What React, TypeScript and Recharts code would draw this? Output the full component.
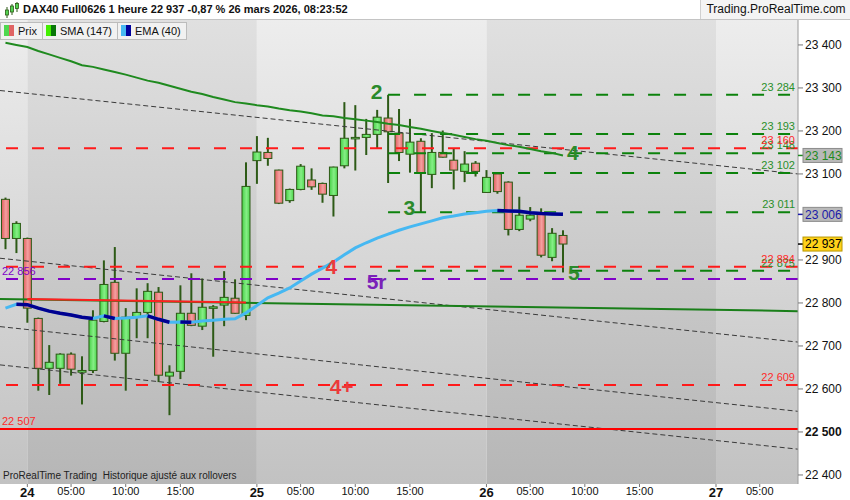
import React from "react";
import {
  ComposedChart,
  Bar,
  Line,
  XAxis,
  YAxis,
  ReferenceLine,
  ReferenceArea,
  ReferenceDot,
} from "recharts";

// hourly candles, DAX40 Full0626 (index 0 = 23rd 20:00, index 2 = 24th 01:00)
const opens = [
  23041, 22950, 22950, 22764, 22648, 22648, 22681, 22639, 22643, 22757, 22848, 22683, 22767,
  22778, 22825, 22630, 22641, 22776, 22746, 22788, 22795, 22811, 22771, 23131, 23150, 23109,
  23038, 23064, 23086, 23078, 23050, 23119, 23183, 23185, 23192, 23230, 23195, 23146, 23176,
  23099, 23150, 23132, 23106, 23125, 23057, 23100, 23081, 22971, 22995, 23009, 22906, 22957,
];
const highs = [
  23045, 22990, 22952, 22766, 22702, 22683, 22685, 22676, 22783, 22899, 22930, 22788, 22834,
  22846, 22837, 22655, 22841, 22869, 22857, 22795, 22874, 22855, 23127, 23188, 23184, 23110,
  23066, 23123, 23113, 23080, 23117, 23267, 23260, 23228, 23249, 23284, 23251, 23228, 23183,
  23195, 23201, 23160, 23153, 23130, 23109, 23101, 23083, 23047, 23023, 23020, 22974, 22969,
];
const lows = [
  22925, 22916, 22754, 22596, 22586, 22612, 22631, 22564, 22637, 22755, 22666, 22596, 22718,
  22718, 22616, 22539, 22623, 22746, 22737, 22675, 22746, 22775, 22760, 23077, 23119, 23030,
  23033, 23062, 23063, 23033, 23001, 23113, 23108, 23144, 23160, 23079, 23130, 23103, 23011,
  23067, 23138, 23064, 23081, 23094, 23056, 23054, 22957, 22967, 22990, 22906, 22897, 22871,
];
const closes = [
  22950, 22985, 22788, 22648, 22662, 22681, 22646, 22643, 22760, 22843, 22683, 22767, 22778,
  22827, 22632, 22639, 22776, 22748, 22790, 22791, 22813, 22776, 23071, 23151, 23136, 23032,
  23064, 23118, 23070, 23053, 23116, 23183, 23185, 23192, 23232, 23198, 23150, 23174, 23102,
  23150, 23139, 23109, 23123, 23106, 23092, 23059, 22971, 23004, 23004, 22911, 22962, 22937,
];
const sma147 = [
  23405, 23400, 23395, 23386, 23378, 23370, 23362, 23353, 23349, 23343, 23337, 23331, 23324,
  23317, 23312, 23305, 23298, 23291, 23286, 23279, 23273, 23267, 23264, 23260, 23257, 23252,
  23248, 23245, 23241, 23236, 23234, 23230, 23227, 23224, 23221, 23217, 23214, 23209, 23205,
  23200, 23195, 23191, 23186, 23181, 23177, 23172, 23167, 23163, 23158, 23153, 23149, 23143,
];
const ema40 = [
  22788, 22797, 22796, 22788, 22781, 22776, 22772, 22767, 22764, 22770, 22764, 22765, 22767,
  22770, 22762, 22755, 22756, 22755, 22758, 22760, 22762, 22763, 22777, 22794, 22812, 22823,
  22835, 22851, 22867, 22881, 22895, 22912, 22928, 22940, 22951, 22960, 22969, 22977, 22984,
  22991, 22998, 23002, 23007, 23010, 23013, 23015, 23014, 23013, 23010, 23008, 23007, 23006,
];

const xTicks = [2, 6, 11, 16, 23, 27, 32, 37, 44, 48, 53, 58, 65, 69];
const xTickLabels = ["24", "05:00", "10:00", "15:00", "25", "05:00", "10:00", "15:00", "26", "05:00", "10:00", "15:00", "27", "05:00"];
// 23 000 sits under the EMA badge in the reference
const yTicks = [22400, 22500, 22600, 22700, 22800, 22900, 23100, 23200, 23300, 23400];
const dayEdges = [-0.5, 2, 23, 44, 65, 72.5];

// auto levels
const greenLevelStart = 35;
const greenLevels = [23284, 23193, 23148, 23102, 23011, 22875];
const redLevels = [23160, 22884, 22609];
const purpleLevels = [22856];
const supportLevel = 22507;

// channel lines (price at left edge, price at right edge)
const channelStart = [23294, 22904, 22745, 22656];
const channelEnd = [23100, 22709, 22548, 22460];
const greenTrend = [22809, 22781];
const redTrend = [22809, 22801];
const redTrendRange = [2, 22];

// wave labels: text, index, price
const waveText = ["2", "3", "4", "5", "4", "5r", "4+"];
const waveX = [33.95, 36.95, 51.9, 52.0, 29.8, 33.95, 30.75];
const waveY = [23291, 23021, 23151, 22872, 22884, 22851, 22607];
const waveKind = ["g", "g", "g", "g", "r", "p", "r"];

const lastEma = ema40[ema40.length - 1];
const lastSma = sma147[sma147.length - 1];
const lastClose = closes[closes.length - 1];

const candles = opens.map((o, i) => ({
  i,
  o,
  h: highs[i],
  l: lows[i],
  c: closes[i],
  sma: sma147[i],
  ema: ema40[i],
}));

// falling stretches of the EMA are drawn dark blue
const emaFalling: { i: number; v: number }[][] = [];
let run: { i: number; v: number }[] | null = null;
for (let i = 1; i < ema40.length; i++) {
  if (ema40[i] < ema40[i - 1]) {
    if (!run) {
      run = [{ i: i - 1, v: ema40[i - 1] }];
      emaFalling.push(run);
    }
    run.push({ i, v: ema40[i] });
  } else run = null;
}

const FONT = "'Liberation Sans', Arial, sans-serif";
const WICK = "#2d5a16";
const GREEN = "#1f8a1f";
const RED = "#ff1a1a";
const PURPLE = "#8000c8";
const fmt = (v: number) => String(v).replace(/\B(?=(\d{3})+(?!\d))/g, " ");

const Candle = (props: any) => {
  const { x, y, width, height } = props;
  const d = props.payload ?? props;
  if (d == null || d.o == null) return null;
  const top = Math.min(y, y + height);
  const span = Math.abs(height);
  const k = d.h > d.l ? span / (d.h - d.l) : 0;
  const yO = top + (d.h - d.o) * k;
  const yC = top + (d.h - d.c) * k;
  const up = d.c >= d.o;
  const bTop = Math.min(yO, yC);
  const bH = Math.max(Math.abs(yO - yC), 1.5);
  const mid = x + width / 2;
  return (
    <g>
      <line x1={mid} x2={mid} y1={top} y2={top + span} stroke={WICK} strokeWidth={2} />
      <rect
        x={x + 0.5}
        y={bTop}
        width={width - 1}
        height={bH}
        fill={up ? "url(#candleUp)" : "url(#candleDown)"}
        stroke={WICK}
        strokeWidth={1}
      />
    </g>
  );
};

const XTick = ({ x, y, payload }: any) => {
  const label = xTickLabels[xTicks.indexOf(payload.value)] ?? "";
  const day = label.length <= 2;
  return (
    <text
      x={x}
      y={y}
      dy={day ? "0.8em" : "0.75em"}
      textAnchor="middle"
      fontFamily={FONT}
      fontSize={day ? 13 : 11}
      fontWeight={day ? "bold" : "normal"}
      fill="#111"
    >
      {label}
    </text>
  );
};

const YTick = ({ x, y, payload }: any) => (
  <text
    x={x}
    y={y}
    dy="0.35em"
    textAnchor="start"
    fontFamily={FONT}
    fontSize={12}
    fontWeight={payload.value === 22500 ? "bold" : "normal"}
    fill="#111"
  >
    {fmt(payload.value)}
  </text>
);

const levelText = (color: string, value: number, left: boolean) => (p: any) => (
  <text
    x={left ? p.cx + 2 : p.cx - 3}
    y={p.cy - 4}
    textAnchor={left ? "start" : "end"}
    fontFamily={FONT}
    fontSize={11}
    fill={color}
  >
    {fmt(value)}
  </text>
);

const badge = (value: number, bg: string, border: string, color: string, tick: string) => (p: any) => (
  <g>
    <line x1={p.cx} x2={p.cx + 5} y1={p.cy} y2={p.cy} stroke={tick} strokeWidth={1.5} />
    <rect x={p.cx + 5} y={p.cy - 7} width={39} height={14} fill={bg} stroke={border} />
    <text x={p.cx + 7} y={p.cy} dy="0.36em" fontFamily={FONT} fontSize={12} fill={color}>
      {fmt(value)}
    </text>
  </g>
);

const waveColor: Record<string, string> = { g: "#2b8a2b", r: "#ec3a3a", p: "#7a22b8" };

const Swatch = ({ a, b }: { a: string; b: string }) => (
  <span style={{ display: "inline-block", width: 10, height: 11, marginRight: 4, verticalAlign: "-1px" }}>
    <span style={{ display: "inline-block", width: 5, height: 11, background: a }} />
    <span style={{ display: "inline-block", width: 5, height: 11, background: b }} />
  </span>
);

const legendBox: React.CSSProperties = {
  display: "inline-block",
  height: 16,
  lineHeight: "16px",
  padding: "0 5px 0 3px",
  border: "1px solid #bcbcbc",
  background: "#f1f1f1",
  fontSize: 11,
  color: "#111",
  marginRight: -1,
};

export default function App() {
  return (
    <div style={{ position: "absolute", left: 0, top: 0, width: 850, height: 500, background: "#fff", fontFamily: FONT }}>
      <ComposedChart width={850} height={500} data={candles} margin={{ top: 20, right: 0, bottom: 0, left: 0 }}>
        <defs>
          <linearGradient id="bgLight" x1="0" y1="0" x2="0" y2="1">
            <stop offset="0%" stopColor="#ededed" />
            <stop offset="100%" stopColor="#c2c2c2" />
          </linearGradient>
          <linearGradient id="bgDark" x1="0" y1="0" x2="0" y2="1">
            <stop offset="0%" stopColor="#e0e0e0" />
            <stop offset="100%" stopColor="#b6b6b6" />
          </linearGradient>
          <linearGradient id="candleUp" x1="0" y1="0" x2="1" y2="0">
            <stop offset="0%" stopColor="#46d046" />
            <stop offset="55%" stopColor="#86ee86" />
            <stop offset="100%" stopColor="#4cd64c" />
          </linearGradient>
          <linearGradient id="candleDown" x1="0" y1="0" x2="1" y2="0">
            <stop offset="0%" stopColor="#e05c5c" />
            <stop offset="55%" stopColor="#f4a0a0" />
            <stop offset="100%" stopColor="#e26868" />
          </linearGradient>
        </defs>
        {dayEdges.slice(0, -1).map((x1, k) => (
          <ReferenceArea
            key={`band${k}`}
            x1={x1}
            x2={dayEdges[k + 1]}
            fill={k % 2 === 0 ? "url(#bgLight)" : "url(#bgDark)"}
            fillOpacity={1}
            stroke="none"
            zIndex={-200}
          />
        ))}
        <XAxis
          dataKey="i"
          type="number"
          domain={[-0.5, 72.5]}
          ticks={xTicks}
          interval={0}
          allowDataOverflow
          height={16}
          axisLine={false}
          tickSize={3}
          tickMargin={0}
          tickLine={{ stroke: "#777" }}
          tick={<XTick />}
        />
        <YAxis
          orientation="right"
          type="number"
          domain={[22379, 23458]}
          ticks={yTicks}
          interval={0}
          allowDataOverflow
          width={52}
          tickSize={5}
          tickMargin={2}
          axisLine={{ stroke: "#9a9a9a" }}
          tickLine={{ stroke: "#777" }}
          tick={<YTick />}
        />

        {channelStart.map((a, k) => (
          <ReferenceLine
            key={`ch${k}`}
            segment={[{ x: -0.5, y: a }, { x: 72.5, y: channelEnd[k] }]}
            stroke="#3a3a3a"
            strokeWidth={1}
            strokeDasharray="5 3"
          />
        ))}
        <ReferenceLine
          segment={[{ x: -0.5, y: greenTrend[0] }, { x: 72.5, y: greenTrend[1] }]}
          stroke="#1a7f1a"
          strokeWidth={2}
        />
        <ReferenceLine
          segment={[{ x: redTrendRange[0], y: redTrend[0] }, { x: redTrendRange[1], y: redTrend[1] }]}
          stroke="#ff2020"
          strokeWidth={2}
        />

        <Bar dataKey={(d: any) => [d.l, d.h]} barSize={9} shape={Candle} isAnimationActive={false} />

        {redLevels.map((p) => (
          <ReferenceLine key={`r${p}`} y={p} stroke={RED} strokeWidth={2} strokeDasharray="12 14" />
        ))}
        {purpleLevels.map((p) => (
          <ReferenceLine key={`p${p}`} y={p} stroke={PURPLE} strokeWidth={2} strokeDasharray="12 14" />
        ))}
        {greenLevels.map((p) => (
          <ReferenceLine
            key={`g${p}`}
            segment={[{ x: greenLevelStart, y: p }, { x: 72.5, y: p }]}
            stroke="#0c820c"
            strokeWidth={2}
            strokeDasharray="12 14"
          />
        ))}
        <ReferenceLine y={supportLevel} stroke="#ff0000" strokeWidth={2} />

        <Line dataKey="sma" stroke={GREEN} strokeWidth={2} dot={false} isAnimationActive={false} />
        <Line dataKey="ema" stroke="#46b8f2" strokeWidth={3} dot={false} isAnimationActive={false} />
        {emaFalling.map((r, k) => (
          <Line
            key={`dn${k}`}
            data={r}
            dataKey="v"
            stroke="#000090"
            strokeWidth={3.5}
            dot={false}
            isAnimationActive={false}
          />
        ))}

        {greenLevels.map((p) => (
          <ReferenceDot key={`gl${p}`} x={72.5} y={p} r={1} shape={levelText("#2a8f2a", p, false)} />
        ))}
        {redLevels.map((p) => (
          <ReferenceDot key={`rl${p}`} x={72.5} y={p} r={1} shape={levelText("#ff2a2a", p, false)} />
        ))}
        {purpleLevels.map((p) => (
          <ReferenceDot key={`pl${p}`} x={-0.5} y={p} r={1} shape={levelText(PURPLE, p, true)} />
        ))}
        <ReferenceDot x={-0.5} y={supportLevel} r={1} shape={levelText("#ff2a2a", supportLevel, true)} />

        {waveText.map((t, k) => (
          <ReferenceDot
            key={`w${k}`}
            x={waveX[k]}
            y={waveY[k]}
            r={1}
            shape={(p: any) => (
              <text
                x={p.cx}
                y={p.cy}
                dy="0.36em"
                textAnchor="middle"
                fontFamily={FONT}
                fontSize={21}
                fontWeight="bold"
                fill={waveColor[waveKind[k]]}
              >
                {t}
              </text>
            )}
          />
        ))}

        <ReferenceDot x={72.5} y={lastSma} r={1} shape={badge(lastSma, "#b9b9b9", "#8c8c8c", "#1f8a1f", GREEN)} />
        <ReferenceDot x={72.5} y={lastEma} r={1} shape={badge(lastEma, "#b9b9b9", "#8c8c8c", "#1a1aa8", "#1a1aa8")} />
        <ReferenceDot x={72.5} y={lastClose} r={1} shape={badge(lastClose, "#ffd21a", "#b89600", "#000", "#000")} />
      </ComposedChart>

      <div
        style={{
          position: "absolute",
          left: 0,
          top: 0,
          width: 850,
          height: 19,
          background: "#fff",
          borderBottom: "1px solid #c4c4c4",
        }}
      >
        <svg width={18} height={18} style={{ position: "absolute", left: 3, top: 1 }}>
          <line x1={4} x2={4} y1={6} y2={17} stroke={WICK} />
          <rect x={2.5} y={9} width={3} height={5} fill="#52d452" stroke={WICK} strokeWidth={0.8} />
          <line x1={9} x2={9} y1={3} y2={14} stroke={WICK} />
          <rect x={7.5} y={5} width={3} height={6} fill="#52d452" stroke={WICK} strokeWidth={0.8} />
          <line x1={14} x2={14} y1={1} y2={11} stroke={WICK} />
          <rect x={12.5} y={2.5} width={3} height={5} fill="#52d452" stroke={WICK} strokeWidth={0.8} />
        </svg>
        <span style={{ position: "absolute", left: 23, top: 0, lineHeight: "19px", fontSize: 11, fontWeight: "bold", color: "#111" }}>
          DAX40 Full0626 1 heure 22 937 -0,87 % 26 mars 2026, 08:23:52
        </span>
        <span
          style={{
            position: "absolute",
            left: 700,
            top: 0,
            width: 150,
            height: 19,
            lineHeight: "19px",
            fontSize: 12,
            color: "#111",
            textAlign: "center",
            background: "#f4f4f4",
            borderLeft: "1px solid #d0d0d0",
          }}
        >
          Trading.ProRealTime.com
        </span>
      </div>

      <div style={{ position: "absolute", left: 0, top: 21, whiteSpace: "nowrap" }}>
        <span style={legendBox}>
          <Swatch a="#4fd84f" b="#e06464" />
          Prix
        </span>
        <span style={legendBox}>
          <Swatch a="#44ee00" b="#0a780a" />
          SMA (147)
        </span>
        <span style={legendBox}>
          <Swatch a="#46b8f2" b="#00009c" />
          EMA (40)
        </span>
      </div>

      <div style={{ position: "absolute", left: 3, top: 470, fontSize: 10, color: "#222", whiteSpace: "pre" }}>
        ProRealTime Trading  Historique ajusté aux rollovers
      </div>
    </div>
  );
}
